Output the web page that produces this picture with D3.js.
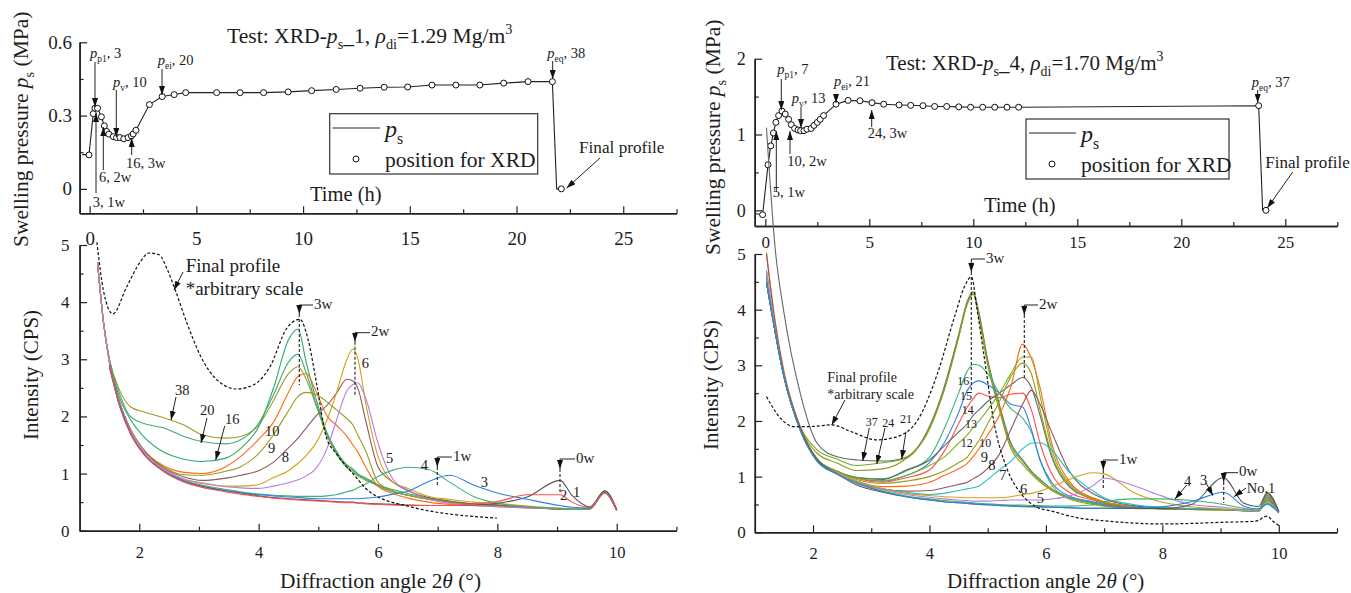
<!DOCTYPE html>
<html>
<head>
<meta charset="utf-8">
<script src="https://cdn.jsdelivr.net/npm/d3@7"></script>
<style>
  html, body { margin: 0; padding: 0; background: #fff; }
  svg { display: block; }
  text { font-family: "Liberation Serif", serif; fill: #1c1c1c; }
</style>
</head>
<body>
<script>
const n = null;

// swelling pressure, test 1: XRD positions
let time1 = [-0.03,0.17,0.25,0.37,0.55,0.69,0.8,0.9,1.11,1.26,1.42,1.6,1.8,1.96,2.04,2.17,2.8,3.4,3.96,4.5,5.95,7.05,8.15,9.3,10.4,11.55,12.67,13.8,14.9,16.04,17.16,18.28,19.4,20.54,21.68];
let press1 = [0.139,0.308,0.33,0.33,0.295,0.258,0.235,0.224,0.214,0.21,0.21,0.205,0.21,0.217,0.225,0.24,0.345,0.378,0.386,0.394,0.394,0.394,0.394,0.397,0.402,0.407,0.412,0.416,0.417,0.425,0.425,0.425,0.433,0.439,0.439];
let lead1 = [-0.35, 0.14];
let drop1 = [21.88, 0];
let final1 = [22.1, 0];

// swelling pressure, test 4: XRD positions
let time4 = [-0.13,0.13,0.26,0.39,0.51,0.64,0.8,0.96,1.12,1.25,1.41,1.57,1.7,1.86,2,2.2,2.34,2.5,2.64,2.8,3.4,3.98,4.55,5.13,5.69,6.43,6.99,7.58,8.14,8.72,9.3,9.87,10.45,11.03,11.62,12.18,23.72];
let press4 = [-0.058,0.6,0.85,1.02,1.16,1.25,1.31,1.27,1.2,1.13,1.08,1.06,1.05,1.05,1.07,1.08,1.12,1.16,1.2,1.25,1.4,1.45,1.445,1.42,1.4,1.39,1.385,1.38,1.37,1.37,1.365,1.36,1.36,1.36,1.36,1.36,1.38];
let lead4 = [-0.45, -0.045];
let drop4 = [23.91, 0];
let final4 = [24.07, 0];

// XRD profiles, test 1
let angle1 = [1.3,1.4,1.5,1.67,1.85,2.07,2.4,2.75,3.05,3.45,3.7,4,4.25,4.5,4.66,4.8,4.97,5.15,5.3,5.48,5.58,5.66,5.8,6,6.25,6.5,6.85,7.2,7.6,8,8.5,9.05,9.25,9.55,9.8,10];
let a1 = [n,n,2.9,2.2,1.72,1.36,1.05,.87,.78,.7,.66,.61,.58,.56,.55,.54,.53,.52,.51,.5,.5,.49,.48,.47,.46,.45,.44,.44,.45,.48,.59,.88,.62,.42,.7,.37];
let a2 = [n,n,2.88,2.18,1.7,1.34,1.04,.85,.76,.68,.64,.6,.57,.55,.54,.53,.52,.51,.5,.49,.49,.48,.47,.46,.45,.44,.44,.44,.46,.51,.63,.63,.5,.41,.66,.36];
let a3 = [n,n,2.86,2.18,1.7,1.35,1.05,.87,.76,.7,.66,.63,.61,.59,.58,.57,.56,.56,.56,.56,.56,.56,.57,.59,.64,.69,.86,.97,.8,.66,.55,.44,.41,.4,.66,.35];
let a4 = [n,n,2.88,2.2,1.72,1.36,1.05,.88,.8,.72,.68,.64,.62,.61,.6,.6,.6,.61,.63,.68,.71,.75,.82,.95,1.06,1.11,1.07,.85,.6,.48,.42,.39,.38,.39,.68,.36];
let a5 = [4.7,3.65,2.95,2.25,1.78,1.4,1.08,.9,.83,.77,.75,.74,.78,.84,.89,.96,1.1,1.45,1.92,2.45,2.56,2.59,2.3,1.53,.9,.71,.55,.48,.44,.42,.4,.39,.38,.39,.67,.36];
let a6 = [4.7,3.65,2.95,2.25,1.78,1.4,1.08,.9,.84,.78,.78,.81,.93,1.05,1.18,1.32,1.55,1.95,2.4,3,3.18,3.02,2.2,1.3,.85,.74,.6,.55,.5,.48,.43,.39,.38,.39,.67,.36];
let a8 = [4.7,3.65,2.95,2.25,1.78,1.42,1.1,.94,.88,.92,.97,1.05,1.2,1.45,1.62,1.8,2.02,2.2,2.4,2.65,2.62,2.5,1.9,1.12,.85,.7,.58,.52,.47,.45,.41,.38,.38,.39,.68,.36];
let a9 = [4.7,3.65,2.95,2.25,1.78,1.42,1.12,.98,.97,1.04,1.12,1.35,1.68,2.1,2.35,2.42,2.38,2.25,2.12,1.96,1.85,1.68,1.38,.85,.7,.62,.55,.5,.47,.45,.41,.38,.38,.39,.68,.36];
let a10 = [4.7,3.65,2.95,2.25,1.78,1.42,1.14,1.02,1,1.12,1.3,1.6,1.9,2.42,2.7,2.75,2.42,2,1.85,1.65,1.5,1.38,1.1,.78,.65,.57,.5,.46,.44,.42,.4,.38,.38,.38,.67,.36];
let a16 = [4.7,3.65,2.97,2.33,1.95,1.65,1.38,1.25,1.21,1.27,1.44,1.82,2.5,3.34,3.53,2.93,2.28,1.7,1.4,1.15,1.08,1,.92,.8,.72,.65,.57,.5,.46,.44,.41,.38,.37,.38,.68,.36];
let a20 = [4.7,3.65,3,2.4,2,1.88,1.8,1.65,1.56,1.52,1.59,1.88,2.38,2.95,3.09,2.75,2.2,1.68,1.38,1.12,1.05,.98,.9,.78,.68,.62,.55,.5,.46,.44,.41,.38,.37,.38,.68,.36];
let a38 = [4.7,3.65,3,2.46,2.17,2.08,1.98,1.85,1.68,1.62,1.65,1.85,2.28,2.75,2.87,2.64,2.17,1.65,1.35,1.1,1.02,.96,.88,.8,.68,.62,.55,.51,.47,.45,.41,.38,.37,.38,.7,.36];
let finalAngle1 = [1.29,1.4,1.556,1.79,2.02,2.16,2.33,2.47,2.6,2.8,3.03,3.3,3.63,3.91,4.19,4.47,4.69,4.83,4.97,5.13,5.3,5.58,5.86,6.5,7.99];
let finalValue1 = [5.05,4.2,3.795,4.27,4.71,4.86,4.83,4.57,4.22,3.63,3.05,2.64,2.48,2.55,2.87,3.54,3.7,3.34,2.58,1.65,1.35,1,.68,.43,.22];

// XRD profiles, test 4
let angle4 = [1.2,1.35,1.5,1.78,2.07,2.4,2.75,3.2,3.6,4,4.25,4.5,4.65,4.75,4.85,5,5.2,5.4,5.6,5.75,5.9,6.1,6.4,6.8,7,7.5,8,8.5,9.05,9.4,9.65,9.8,10];
let b1 = [4.5,3.6,2.8,1.86,1.3,1.06,.85,.72,.64,.58,.55,.53,.52,.51,.5,.5,.49,.48,.47,.46,.46,.45,.44,.43,.43,.43,.43,.5,.98,.52,.46,.71,.38];
let b3 = [4.5,3.6,2.8,1.84,1.28,1.05,.88,.73,.64,.58,.55,.53,.52,.51,.5,.49,.48,.47,.46,.46,.45,.45,.44,.43,.43,.44,.46,.55,.72,.47,.42,.5,.35];
let b4 = [4.5,3.6,2.8,1.84,1.28,1.05,.88,.74,.65,.6,.57,.55,.54,.53,.52,.51,.5,.49,.49,.48,.48,.47,.47,.49,.55,.6,.6,.57,.5,.43,.4,.52,.35];
let b5 = [4.7,3.65,2.8,1.84,1.28,1.06,.89,.76,.68,.63,.6,.58,.57,.56,.56,.56,.57,.58,.58,.58,.58,.6,.65,.83,.97,.84,.65,.5,.45,.41,.39,.52,.36];
let b6 = [4.7,3.65,2.8,1.84,1.28,1.08,.92,.78,.7,.66,.64,.63,.62,.62,.62,.62,.62,.64,.68,.7,.74,.82,.95,1.07,1.05,.72,.54,.46,.42,.4,.38,.54,.36];
let b7 = [4.7,3.65,2.8,1.84,1.3,1.08,.92,.78,.72,.68,.7,.75,.78,.8,.83,.95,1.12,1.28,1.5,1.6,1.61,1.48,1.08,.75,.62,.5,.45,.43,.41,.39,.38,.56,.36];
let b8 = [5,3.75,2.85,1.88,1.3,1.08,.9,.78,.74,.75,.8,.86,.9,.96,1.02,1.15,1.4,1.85,2.3,2.55,2.3,1.8,1.1,.7,.6,.48,.44,.42,.41,.39,.38,.58,.36];
let b9 = [4.6,3.6,2.8,1.85,1.3,1.1,.95,.88,.92,1,1.1,1.25,1.35,1.5,1.65,1.95,2.35,2.8,3.04,2.85,2.2,1.4,.85,.6,.53,.46,.43,.42,.41,.4,.39,.6,.35];
let b10 = [5.03,3.8,2.9,1.9,1.32,1.09,.92,.82,.83,.9,1.02,1.14,1.24,1.36,1.5,1.75,2.1,2.62,3.38,3.12,2.6,1.6,.92,.62,.55,.46,.43,.42,.41,.4,.39,.62,.36];
let b12 = [4.5,3.6,2.8,1.86,1.32,1.1,.97,.93,1.02,1.2,1.35,1.6,1.75,1.88,2,2.2,2.5,2.85,3.15,3.15,2.45,1.5,.88,.62,.55,.46,.43,.42,.41,.4,.39,.62,.36];
let b13 = [4.5,3.6,2.8,1.86,1.32,1.1,.98,.95,1.12,1.3,1.55,1.8,1.95,2.1,2.2,2.35,2.5,2.65,2.78,2.6,2.1,1.35,.82,.6,.53,.46,.43,.42,.41,.4,.39,.62,.36];
let b14 = [4.5,3.6,2.8,1.84,1.3,1.1,.97,.9,.98,1.12,1.45,1.95,2.25,2.4,2.5,2.45,2.42,2.48,2.5,2.2,1.6,1.05,.72,.58,.52,.46,.43,.42,.41,.4,.39,.62,.36];
let b15 = [4.6,3.6,2.8,1.84,1.3,1.1,.97,.92,1.02,1.25,1.6,2.15,2.55,2.68,2.72,2.65,2.5,2.3,2.25,1.85,1.3,.9,.65,.55,.5,.45,.43,.42,.41,.4,.39,.64,.36];
let b16 = [4.6,3.6,2.8,1.84,1.3,1.1,.99,.96,1.1,1.35,1.85,2.5,2.9,3.02,3,2.85,2.5,2.22,2.05,1.8,1.3,.85,.62,.54,.5,.45,.43,.42,.41,.4,.39,.66,.36];
let b21 = [4.5,3.6,2.8,1.88,1.42,1.25,1.11,1.14,1.33,1.85,2.55,3.5,4.1,4.28,3.85,3,2.2,1.5,1.22,1.05,.9,.75,.6,.5,.47,.43,.42,.41,.4,.39,.38,.66,.36];
let b24 = [4.5,3.6,2.8,1.9,1.48,1.32,1.2,1.25,1.33,1.88,2.55,3.5,4.12,4.3,3.9,3.05,2.25,1.55,1.27,1.08,.93,.77,.62,.52,.48,.44,.42,.41,.4,.39,.38,.68,.36];
let b37 = [7.27,5.1,3.95,2.5,1.6,1.36,1.3,1.28,1.35,1.9,2.6,3.55,4.15,4.32,3.95,3.1,2.3,1.6,1.3,1.1,.95,.78,.63,.52,.48,.44,.42,.41,.4,.39,.38,.7,.36];
let finalAngle4 = [1.2,1.44,1.67,1.95,2.33,2.65,3.1,3.45,3.8,4.14,4.43,4.6,4.72,4.82,4.94,5.1,5.34,5.57,5.85,6.1,6.55,7.07,8,9.05,9.6,9.8,9.9,10];
let finalValue4 = [2.44,2.05,1.9,1.9,1.93,1.81,1.66,1.72,2.02,2.86,3.87,4.41,4.59,3.99,3.15,2.02,1.12,.7,.45,.38,.26,.2,.15,.18,.2,.29,.2,.12];

// tick values
let hourMajor = [0, 5, 10, 15, 20, 25];
let hourMinor = [2.5, 7.5, 12.5, 17.5, 22.5, 27.5];
let press1Major = [0, 0.3, 0.6];
let press1Minor = [0.15, 0.45];
let press4Major = [0, 1, 2];
let press4Minor = [0.5, 1.5];
let angleMajor = [2, 4, 6, 8, 10];
let angleMinor = [3, 5, 7, 9, 11];
let intensityMajor = [0, 1, 2, 3, 4, 5];
let intensityMinor = [0.5, 1.5, 2.5, 3.5, 4.5];

// scales
let x1Top = d3.scaleLinear().domain([-0.47, 27.5]).range([79.6, 676.6]);
let y1Top = d3.scaleLinear().domain([-0.1, 0.6]).range([213.3, 42.3]);
let x1Low = d3.scaleLinear().domain([1, 11]).range([79.6, 676.4]);
let y1Low = d3.scaleLinear().domain([0, 5]).range([530.7, 245]);
let x4Top = d3.scaleLinear().domain([-0.51, 27.5]).range([754.7, 1337.3]);
let y4Top = d3.scaleLinear().domain([-0.207, 2]).range([226, 58.7]);
let x4Low = d3.scaleLinear().domain([1, 11]).range([754.8, 1337]);
let y4Low = d3.scaleLinear().domain([0, 5]).range([532.3, 254]);

let svg = d3.select("body").append("svg")
    .attr("width", 1351)
    .attr("height", 593);

svg.append("rect").attr("width", 1351).attr("height", 593).attr("fill", "#fff");

svg.append("defs").append("marker")
    .attr("id", "tip")
    .attr("viewBox", "0 0 9 6")
    .attr("refX", 9)
    .attr("refY", 3)
    .attr("markerUnits", "userSpaceOnUse")
    .attr("markerWidth", 9)
    .attr("markerHeight", 6)
    .attr("orient", "auto")
    .append("path")
      .attr("d", "M0,0L9,3L0,6Z")
      .attr("fill", "#111");

function drawAxes(xScale, yScale, yBase, xLeft, ticks) {
  let xa = d3.axisBottom(xScale).tickValues(ticks.xMajor).tickSize(-7)
      .tickSizeOuter(0).tickPadding(ticks.xPad).tickFormat(d => String(d));
  let xm = d3.axisBottom(xScale).tickValues(ticks.xMinor).tickSize(-4)
      .tickSizeOuter(0).tickFormat("");
  let ya = d3.axisLeft(yScale).tickValues(ticks.yMajor).tickSize(-7.5)
      .tickSizeOuter(0).tickPadding(ticks.yPad).tickFormat(d => String(d));
  let ym = d3.axisLeft(yScale).tickValues(ticks.yMinor).tickSize(-4)
      .tickSizeOuter(0).tickFormat("");
  [[xa, "x"], [xm, "x"], [ya, "y"], [ym, "y"]].forEach(([axis, side]) => {
    let g = svg.append("g")
        .attr("transform", side == "x" ? `translate(0,${yBase})` : `translate(${xLeft},0)`)
        .call(axis);
    g.selectAll("path,line").attr("stroke", "#222").attr("stroke-width", 1.5);
    g.selectAll("line").attr("stroke-width", 1.2);
    g.selectAll("text")
        .attr("fill", "#1c1c1c")
        .style("font-family", '"Liberation Serif", serif')
        .style("font-size", (side == "x" ? ticks.xSize : ticks.ySize) + "px");
  });
}

function drawProfiles(angles, rows, xScale, yScale) {
  let line = d3.line()
      .defined(d => d[1] != null)
      .x(d => xScale(d[0]))
      .y(d => yScale(d[1]))
      .curve(d3.curveMonotoneX);
  rows.forEach(([values, color]) => {
    svg.append("path")
        .datum(angles.map((a, i) => [a, values[i]]))
        .attr("d", line)
        .attr("fill", "none")
        .attr("stroke", color)
        .attr("stroke-width", 1.1);
  });
}

function drawDashed(angles, values, xScale, yScale) {
  let line = d3.line()
      .x((a, i) => xScale(a))
      .y((a, i) => yScale(values[i]))
      .curve(d3.curveMonotoneX);
  svg.append("path")
      .datum(angles)
      .attr("d", line)
      .attr("fill", "none")
      .attr("stroke", "#111")
      .attr("stroke-width", 1.2)
      .attr("stroke-dasharray", "3,2");
}

function drawPressure(times, press, lead, drop, last, xScale, yScale) {
  let pts = [lead].concat(times.map((t, i) => [t, press[i]]), [drop, last]);
  let line = d3.line().x(d => xScale(d[0])).y(d => yScale(d[1]));
  svg.append("path")
      .datum(pts)
      .attr("d", line)
      .attr("fill", "none")
      .attr("stroke", "#222")
      .attr("stroke-width", 1.1);
  svg.selectAll(null)
      .data(times.map((t, i) => [t, press[i]]).concat([last]))
      .enter()
        .append("circle")
        .attr("cx", d => xScale(d[0]))
        .attr("cy", d => yScale(d[1]))
        .attr("r", 3)
        .attr("fill", "#fff")
        .attr("stroke", "#111")
        .attr("stroke-width", 1);
}

// runs: plain string, or [text, "i"|"sub"|"isub"|"sup"]
function rich(x, y, runs, size, rotate) {
  let t = svg.append("text")
      .attr("x", x)
      .attr("y", y)
      .style("font-size", size + "px");
  if (rotate) t.attr("transform", `rotate(-90 ${x} ${y})`);
  let shift = 0;
  runs.forEach(r => {
    let [str, kind] = typeof r == "string" ? [r, ""] : r;
    let target = kind.includes("sub") ? size * 0.28 : kind == "sup" ? -size * 0.42 : 0;
    t.append("tspan")
        .attr("dy", target - shift)
        .style("font-size", (kind.includes("sub") || kind == "sup" ? size * 0.66 : size) + "px")
        .style("font-style", kind == "i" || kind == "isub" ? "italic" : "normal")
        .text(str);
    shift = target;
  });
}

function arrow(x1, y1, x2, y2) {
  svg.append("line")
      .attr("x1", x1).attr("y1", y1).attr("x2", x2).attr("y2", y2)
      .attr("stroke", "#222")
      .attr("stroke-width", 1)
      .attr("marker-end", "url(#tip)");
}

function peakTag(x, top, tipY, dashEnd, right, label) {
  svg.append("path")
      .attr("d", `M${right},${top}H${x}V${tipY}`)
      .attr("fill", "none").attr("stroke", "#222").attr("stroke-width", 1)
      .attr("marker-end", "url(#tip)");
  svg.append("line")
      .attr("x1", x).attr("y1", tipY).attr("x2", x).attr("y2", dashEnd)
      .attr("stroke", "#222").attr("stroke-width", 1.1).attr("stroke-dasharray", "3,2");
  rich(right + 1, top + 3.5, [label], 15);
}

function legend(x, y, w, h, lineY, sample, textX) {
  svg.append("rect")
      .attr("x", x).attr("y", y).attr("width", w).attr("height", h)
      .attr("fill", "#fff").attr("stroke", "#333").attr("stroke-width", 1.2);
  svg.append("line")
      .attr("x1", x + 3).attr("x2", textX - 5).attr("y1", lineY).attr("y2", lineY)
      .attr("stroke", "#222").attr("stroke-width", 1.1);
  svg.append("circle")
      .attr("cx", sample).attr("cy", lineY + 31).attr("r", 3)
      .attr("fill", "#fff").attr("stroke", "#111").attr("stroke-width", 1);
  rich(textX, lineY + 9, [["p", "i"], ["s", "sub"]], 24);
  rich(textX, lineY + 39, ["position for XRD"], 21.5);
}

let pAnno = (x, y, sub, rest) => rich(x, y, [["p", "i"], [sub, "sub"], rest], 14.5);

// ---- test 1, swelling pressure
drawAxes(x1Top, y1Top, 213.3, 79.6, {xMajor: hourMajor, xMinor: hourMinor, yMajor: press1Major, yMinor: press1Minor, xPad: 18, yPad: 7.5, xSize: 19, ySize: 19});
drawPressure(time1, press1, lead1, drop1, final1, x1Top, y1Top);
rich(227, 43, ["Test: XRD-", ["p", "i"], ["s", "sub"], "_1, ", ["ρ", "i"], ["di", "sub"], "=1.29 Mg/m", ["3", "sup"]], 21.6);
legend(329.7, 113.7, 208, 60.3, 128, 356, 385);
rich(310, 201, ["Time (h)"], 20.5);
rich(28, 247, ["Swelling pressure ", ["p", "i"], ["s", "sub"], " (MPa)"], 21.5, true);
pAnno(90, 58, "p1", ", 3");
arrow(95, 62, 95, 107);
rich(92.7, 207, ["3, 1w"], 14.5);
arrow(96, 193, 96, 113);
rich(99, 182, ["6, 2w"], 14.5);
arrow(103.3, 170, 103.3, 127);
pAnno(113, 87, "v", ", 10");
arrow(116.3, 90, 116.3, 137);
rich(126, 168, ["16, 3w"], 14.5);
arrow(131.7, 155, 131.7, 138);
pAnno(157.7, 65, "ei", ", 20");
arrow(162, 69, 162, 95);
pAnno(547.3, 58, "eq", ", 38");
arrow(552.7, 61, 552.7, 79);
rich(579, 153, ["Final profile"], 17.2);
arrow(600, 158, 566.7, 188);

// ---- test 1, XRD
drawAxes(x1Low, y1Low, 530.7, 79.6, {xMajor: angleMajor, xMinor: angleMinor, yMajor: intensityMajor, yMinor: intensityMinor, xPad: 16, yPad: 10, xSize: 16.5, ySize: 17});
drawProfiles(angle1, [
  [a38, "#a09a20"], [a20, "#3caf78"], [a16, "#2fa866"], [a10, "#ff6a13"], [a9, "#9a9a1e"],
  [a8, "#8b5a5a"], [a6, "#d4a017"], [a5, "#b57edc"], [a4, "#3cb371"], [a1, "#555"],
  [a3, "#2f80e0"], [a2, "#ff4d4d"]
], x1Low, y1Low);
drawDashed(finalAngle1, finalValue1, x1Low, y1Low);
rich(185.7, 271.7, ["Final profile"], 19);
rich(185.7, 295, ["*arbitrary scale"], 19);
arrow(183, 272, 174, 290);
peakTag(299.3, 305, 314, 385, 313, "3w");
peakTag(355, 332.7, 341.7, 395, 370, "2w");
peakTag(437.3, 457, 467, 485, 452, "1w");
peakTag(560, 459, 469, 493, 575, "0w");
rich(175, 395, ["38"], 14.5);
arrow(176, 397, 171, 420);
rich(200, 415, ["20"], 14.5);
arrow(207, 418, 201, 443);
rich(225, 424, ["16"], 14.5);
arrow(224.7, 426, 215.7, 460);
rich(265, 436, ["10"], 14.5);
rich(268, 453, ["9"], 14.5);
rich(281.7, 462, ["8"], 14.5);
rich(361.7, 368, ["6"], 14.5);
rich(386, 462.7, ["5"], 14.5);
rich(420.7, 470, ["4"], 14.5);
rich(480.7, 487, ["3"], 14.5);
rich(560, 500, ["2"], 14.5);
rich(573, 497, ["1"], 14.5);
rich(38, 440, ["Intensity (CPS)"], 21, true);
rich(280, 588, ["Diffraction angle 2", ["θ", "i"], " (°)"], 21.4);

// ---- test 4, swelling pressure
drawAxes(x4Top, y4Top, 226, 754.7, {xMajor: hourMajor, xMinor: hourMinor, yMajor: press4Major, yMinor: press4Minor, xPad: 10, yPad: 9, xSize: 17, ySize: 18});
drawPressure(time4, press4, lead4, drop4, final4, x4Top, y4Top);
rich(886, 70, ["Test: XRD-", ["p", "i"], ["s", "sub"], "_4, ", ["ρ", "i"], ["di", "sub"], "=1.70 Mg/m", ["3", "sup"]], 21);
legend(1026, 119, 203, 60, 133, 1052, 1081);
rich(984, 212, ["Time (h)"], 20.5);
rich(720, 255, ["Swelling pressure ", ["p", "i"], ["s", "sub"], " (MPa)"], 21.5, true);
pAnno(777.3, 74, "p1", ", 7");
arrow(781.3, 79, 781.3, 110);
rich(772.7, 196.7, ["5, 1w"], 14.5);
arrow(776.3, 192, 776.3, 131);
rich(787.3, 165.7, ["10, 2w"], 14.5);
arrow(790, 154, 790, 131);
pAnno(791.7, 103, "v", ", 13");
arrow(801, 107, 801, 128);
pAnno(834, 86, "ei", ", 21");
arrow(836, 94, 836, 103);
rich(867.7, 138, ["24, 3w"], 14.5);
arrow(871.7, 127, 871.7, 110);
pAnno(1251.7, 87, "eq", ", 37");
arrow(1257.7, 90, 1257.7, 103);
rich(1265.3, 168, ["Final profile"], 17);
arrow(1292.7, 172, 1267.3, 208);

// ---- test 4, XRD
drawAxes(x4Low, y4Low, 532.3, 754.8, {xMajor: angleMajor, xMinor: angleMinor, yMajor: intensityMajor, yMinor: intensityMinor, xPad: 15, yPad: 9, xSize: 16.5, ySize: 17});
drawProfiles(angle4, [
  [b37, "#666"], [b24, "#6fae2a"], [b21, "#8c9a1e"], [b16, "#3cb371"], [b15, "#2f80e0"],
  [b14, "#ff4d4d"], [b13, "#666"], [b12, "#7ab51d"], [b10, "#ff6a13"], [b9, "#9a9a1e"],
  [b8, "#8b5a5a"], [b7, "#19c3c9"], [b6, "#d4a017"], [b5, "#b57edc"], [b1, "#555"],
  [b4, "#3cb371"], [b3, "#2f80e0"]
], x4Low, y4Low);
drawDashed(finalAngle4, finalValue4, x4Low, y4Low);
rich(827.3, 381.7, ["Final profile"], 14);
rich(827.3, 399.3, ["*arbitrary scale"], 14);
arrow(845, 400, 831.7, 425);
rich(865.7, 426, ["37"], 12);
arrow(869.3, 428, 862.7, 461);
rich(882.3, 426.7, ["24"], 12);
arrow(885, 428, 876.7, 464);
rich(900, 423, ["21"], 12);
arrow(906, 431.7, 901.7, 459);
peakTag(971.3, 259, 272, 393, 985, "3w");
peakTag(1024.3, 305, 315, 380, 1038, "2w");
peakTag(1103.3, 460, 470, 490, 1118, "1w");
peakTag(1223.7, 472.7, 482, 503, 1238, "0w");
[[957.3, 385, "16"], [960, 400, "15"], [961.7, 414, "14"], [965, 428, "13"], [960.7, 447, "12"], [979.3, 447, "10"]]
  .forEach(d => rich(d[0], d[1], [d[2]], 12));
[[980.7, 461.7, "9"], [988.3, 470, "8"], [999.3, 480, "7"], [1020, 494, "6"], [1036.7, 503, "5"]]
  .forEach(d => rich(d[0], d[1], [d[2]], 14.5));
rich(1246.7, 492.7, ["No.1"], 14.5);
arrow(1246, 488, 1234, 496.7);
rich(1200, 485, ["3"], 14.5);
arrow(1206, 483, 1213, 495.7);
rich(1184, 485.7, ["4"], 14.5);
arrow(1186.7, 485, 1175, 499);
rich(718, 450, ["Intensity (CPS)"], 21, true);
rich(947, 588, ["Diffraction angle 2", ["θ", "i"], " (°)"], 21);
</script>
</body>
</html>
